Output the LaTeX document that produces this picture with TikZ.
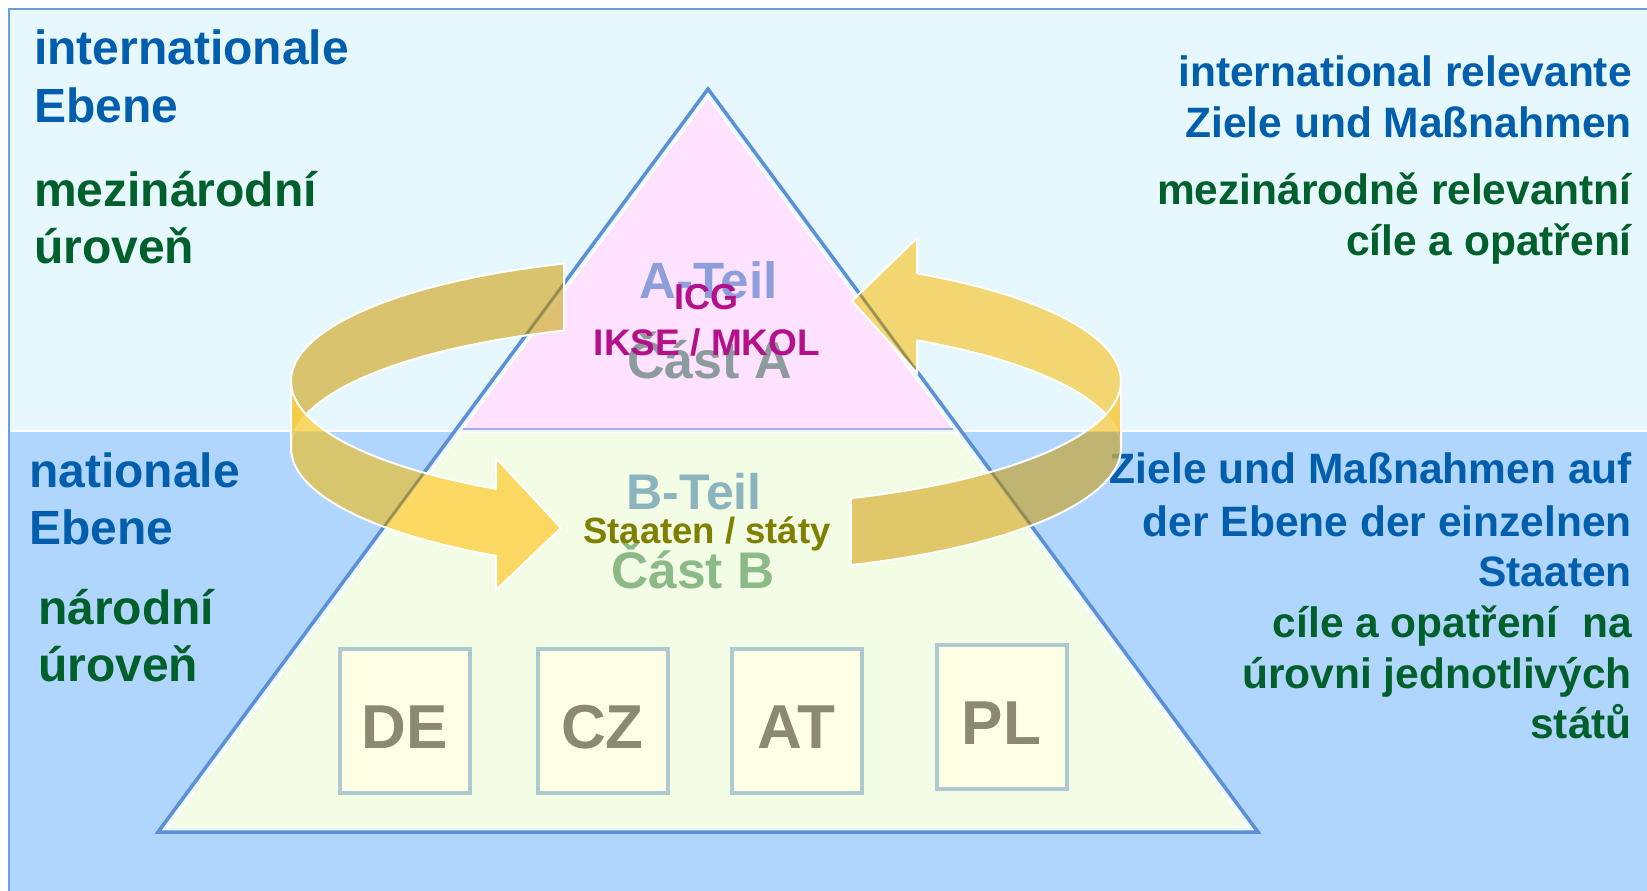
\documentclass[tikz,border=0pt]{standalone}
\usepackage{fontspec}
\setmainfont{Liberation Sans}
\definecolor{bgcyan}{HTML}{E6F7FE}
\definecolor{bgblue}{HTML}{B1D6FE}
\definecolor{frameblue}{HTML}{6E9ED9}
\definecolor{triblue}{HTML}{5B8FD8}
\definecolor{trigap}{HTML}{EAF8FF}
\definecolor{pinkfill}{HTML}{FFE2FF}
\definecolor{lavline}{HTML}{A9A9F0}
\definecolor{greenfill}{HTML}{F3FCE5}
\definecolor{boxline}{HTML}{AFC9D1}
\definecolor{boxfill}{HTML}{FFFFE5}
\definecolor{boxtext}{HTML}{8A8A6E}
\definecolor{txtblue}{HTML}{005EAC}
\definecolor{txtgreen}{HTML}{00602B}
\definecolor{ateil}{HTML}{8D9FDB}
\definecolor{casta}{HTML}{8C9C9C}
\definecolor{icgmag}{HTML}{B4108A}
\definecolor{bteil}{HTML}{8CB4BE}
\definecolor{staaten}{HTML}{7F7F00}
\definecolor{castb}{HTML}{8CBA86}
\definecolor{lbackcol}{HTML}{D6B64B}
\definecolor{lfronttan}{HTML}{E2C24C}
\definecolor{lfrontbright}{HTML}{FCD042}
\definecolor{rbackcol}{HTML}{F6CE50}
\definecolor{rfronttan}{HTML}{C4AC4F}
\definecolor{rfrontmid}{HTML}{DCBB4C}
\definecolor{edgeolive}{HTML}{8A8450}
\newcommand\fsz[1]{\fontsize{#1}{#1}\selectfont}
\tikzset{
  lbl/.style={inner sep=0pt, font=\bfseries\fsz{48}},
  lblr/.style={inner sep=0pt, anchor=base east, font=\bfseries\fsz{42.5}},
  cbox/.style={draw=boxline, line width=4pt, fill=boxfill, minimum width=130pt,
    minimum height=144pt, inner sep=0pt, text height=54pt, text depth=0pt,
    font=\bfseries\fsz{62}, text=boxtext},
  ctext/.style={inner sep=0pt, anchor=base},
  band/.style={fill opacity=0.8},
  bandline/.style={draw=white, line width=2pt},
  edgeline/.style={draw=edgeolive, line width=2.5pt, opacity=0.8}
}
% ribbon pieces of the two circular arrows (ellipse centre 706/381, a=415, b=125, band height 67)
\def\LBpath{plot[variable=\t,domain=250:180,samples=50] ({706+415*cos(\t)},{381+125*sin(\t)}) -- plot[variable=\t,domain=180:250,samples=50] ({706+415*cos(\t)},{448+125*sin(\t)}) -- cycle}
\def\LFpath{plot[variable=\t,domain=180:120.4,samples=50] ({706+415*cos(\t)},{381+125*sin(\t)}) -- (496,458) -- (561,528) -- (496,590) -- plot[variable=\t,domain=120.4:180,samples=50] ({706+415*cos(\t)},{448+125*sin(\t)}) -- cycle}
\def\RBpath{plot[variable=\t,domain=300.6:360,samples=50] ({706+415*cos(\t)},{381+125*sin(\t)}) -- plot[variable=\t,domain=360:300.6,samples=50] ({706+415*cos(\t)},{448+125*sin(\t)}) -- (917,373) -- (852,301) -- (917,238) -- cycle}
\def\RFpath{plot[variable=\t,domain=0:69.55,samples=50] ({706+415*cos(\t)},{381+125*sin(\t)}) -- plot[variable=\t,domain=69.55:0,samples=50] ({706+415*cos(\t)},{448+125*sin(\t)}) -- cycle}
% background zones used to tint the ribbons
\def\BlueLeft{(0,431) -- (454.8,431) -- (33.7,1000) -- (0,1000) -- cycle}
\def\NotBlueLeft{(0,0) -- (1700,0) -- (1700,1000) -- (33.7,1000) -- (454.8,431) -- (0,431) -- cycle}
\def\BlueRight{(961.2,431) -- (1700,431) -- (1700,1000) -- (1382.3,1000) -- cycle}
\def\GreenZone{(454.8,431) -- (961.2,431) -- (1382.3,1000) -- (33.7,1000) -- cycle}
\def\UpperZone{(0,0) rectangle (1700,431)}
\begin{document}
\begin{tikzpicture}[x=1pt,y=-1pt,line join=miter]
\useasboundingbox (0,0) rectangle (1647,891);
\clip (0,0) rectangle (1647,891);
\fill[white] (0,0) rectangle (1647,891);
% two level zones
\fill[bgcyan] (9,9) rectangle (1700,431);
\fill[bgblue] (9,431) rectangle (1700,1000);
\draw[white, line width=2pt] (9,431) -- (1700,431);
\draw[frameblue, line width=2pt] (9,1000) -- (9,9) -- (1700,9);

% pyramid
\coordinate (apex) at (708,89);
\coordinate (bl) at (158,832);
\coordinate (br) at (1258,832);
\fill[trigap] (apex) -- (br) -- (bl) -- cycle;
\filldraw[fill=pinkfill, draw=white, line width=1.5pt] (708,97.4) -- (953.4,429) -- (462.6,429) -- cycle;
\draw[lavline, line width=1.5pt] (462.6,429) -- (953.4,429);
\filldraw[fill=greenfill, draw=white, line width=1.5pt] (460.3,432.5) -- (955.7,432.5) -- (1248,827) -- (168,827) -- cycle;
\draw[triblue, line width=3.5pt] (apex) -- (br) -- (bl) -- cycle;

% country boxes
\node[cbox] (de) at (405,721) {DE};
\node[cbox] (cz) at (602.5,721) {CZ};
\node[cbox] (at) at (796.5,721) {AT};
\node[cbox] (pl) at (1001.5,717) {PL};

% pyramid labels
\node[ctext, text=ateil, font=\bfseries\fsz{51}] (ateil) at (708.5,298) {A-Teil};
\node[ctext, text=casta, font=\bfseries\fsz{52}] (casta) at (709.5,378) {Část A};
\node[ctext, text=icgmag, font=\bfseries\fsz{36}] (icg) at (706,309) {ICG};
\node[ctext, text=icgmag, font=\bfseries\fsz{37}] (ikse) at (707,355) {IKSE / MKOL};
\node[ctext, text=bteil, font=\bfseries\fsz{50}] (bteil) at (694,509) {B-Teil};
\node[ctext, text=castb, font=\bfseries\fsz{51.5}] (castb) at (693,588) {Část B};
\node[ctext, text=staaten, font=\bfseries\fsz{36.5}] (staaten) at (707,543) {Staaten / státy};

% side labels
\node[lbl, anchor=base west, text=txtblue] (tl1) at (34,65) {internationale};
\node[lbl, anchor=base west, text=txtblue] (tl2) at (34,122) {Ebene};
\node[lbl, anchor=base west, text=txtgreen] (tl3) at (34,206) {mezinárodní};
\node[lbl, anchor=base west, text=txtgreen] (tl4) at (34,263) {úroveň};
\node[lbl, anchor=base west, text=txtblue] (bl1) at (29,487) {nationale};
\node[lbl, anchor=base west, text=txtblue] (bl2) at (29,544) {Ebene};
\node[lbl, anchor=base west, text=txtgreen] (bl3) at (38,624) {národní};
\node[lbl, anchor=base west, text=txtgreen] (bl4) at (38,681) {úroveň};
\node[lblr, text=txtblue] (tr1) at (1632,86) {international relevante};
\node[lblr, text=txtblue] (tr2) at (1632,137) {Ziele und Maßnahmen};
\node[lblr, text=txtgreen] (tr3) at (1632,204) {mezinárodně relevantní};
\node[lblr, text=txtgreen] (tr4) at (1632,255) {cíle a opatření};
\node[lblr, text=txtblue] (br1) at (1632,483) {Ziele und Maßnahmen auf};
\node[lblr, text=txtblue] (br2) at (1632,536) {der Ebene der einzelnen};
\node[lblr, text=txtblue] (br3) at (1632,586) {Staaten};
\node[lblr, text=txtgreen] (br4) at (1632,637) {cíle a opatření\ \ na};
\node[lblr, text=txtgreen] (br5) at (1632,688) {úrovni jednotlivých};
\node[lblr, text=txtgreen] (br6) at (1632,738) {států};

% left circular arrow: back band
\fill[band, lbackcol] \LBpath;
\begin{scope}\clip \LBpath; \draw[edgeline] (apex) -- (br) -- (bl) -- cycle; \end{scope}
\draw[bandline] \LBpath;
% left circular arrow: front band with head
\begin{scope}\clip \BlueLeft; \fill[band, lfronttan] \LFpath; \end{scope}
\begin{scope}\clip \NotBlueLeft; \fill[band, lfrontbright] \LFpath; \end{scope}
\begin{scope}\clip \LFpath; \draw[edgeline] (apex) -- (br) -- (bl) -- cycle; \end{scope}
\draw[bandline] \LFpath;
% right circular arrow: back band with head
\fill[band, rbackcol] \RBpath;
\begin{scope}\clip \RBpath; \draw[edgeline] (apex) -- (br) -- (bl) -- cycle; \end{scope}
\draw[bandline] \RBpath;
% right circular arrow: front band (tail)
\begin{scope}\clip \BlueRight; \fill[band, rfronttan] \RFpath; \end{scope}
\begin{scope}\clip \GreenZone; \fill[band, rfrontmid] \RFpath; \end{scope}
\begin{scope}\clip \UpperZone; \fill[band, rbackcol] \RFpath; \end{scope}
\begin{scope}\clip \RFpath; \draw[edgeline] (apex) -- (br) -- (bl) -- cycle; \end{scope}
\draw[bandline] \RFpath;
\end{tikzpicture}
\end{document}
